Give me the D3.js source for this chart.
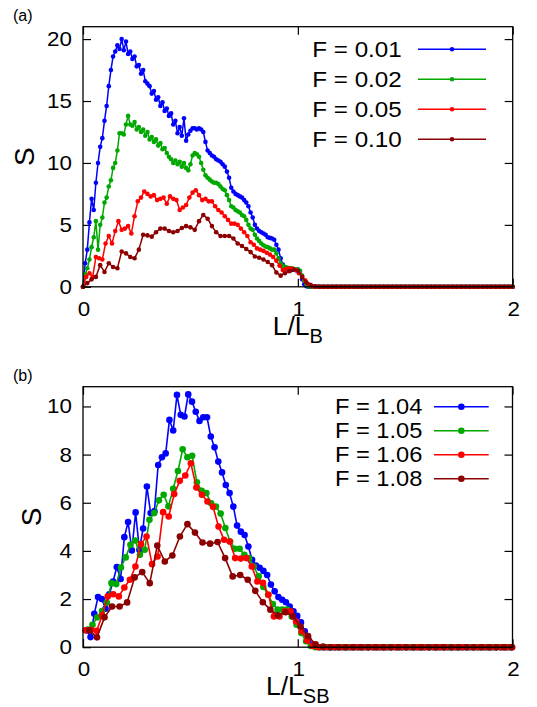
<!DOCTYPE html>
<html>
<head>
<meta charset="utf-8">
<script src="https://cdn.jsdelivr.net/npm/d3@7"></script>
<style>
  body { margin: 0; background: #fff; }
  svg { display: block; font-family: "Liberation Sans", Arial, Helvetica, sans-serif; }
</style>
</head>
<body>
<svg id="fig" width="537" height="707"></svg>
<script>
// ---- Data ----
// x ticks shared by both panels
const xTicks = [0, 1, 2];

// (a) S vs L/L_B, each series sampled on a regular L grid (start, step)
const topNames = ["F = 0.01", "F = 0.02", "F = 0.05", "F = 0.10"];
const topStart = [0, 0, 0, 0];
const topStep = [0.01, 0.01, 0.015, 0.02];
const topYTicks = [0, 5, 10, 15, 20];

const topF001 = [
  0, 1.9, 3.0, 5.2, 7.1, 6.2, 8.4, 10.0, 11.3, 12.0,
  13.4, 14.6, 16.2, 17.5, 18.6, 19.0, 19.5, 19.2, 20.0, 19.1,
  19.8, 18.8, 19.0, 18.4, 18.6, 17.8, 17.9, 17.2, 17.5, 16.6,
  16.4, 16.2, 15.6, 15.8, 15.1, 15.3, 14.6, 14.9, 14.2, 14.4,
  13.8, 14.0, 13.1, 13.4, 12.4, 12.9, 12.2, 13.6, 11.8, 12.3,
  12.6, 12.8, 12.8, 12.7, 12.8, 12.7, 12.5, 11.7, 11.0, 10.8,
  10.6, 10.5, 10.3, 10.2, 10.1, 9.9, 9.7, 9.3, 8.8, 8.0,
  7.7, 7.5, 7.4, 7.3, 7.2, 7.0, 6.8, 6.5, 6.0, 5.6,
  5.0, 4.7, 4.5, 4.4, 4.3, 4.2, 4.0, 3.95, 3.9, 3.8,
  3.4, 3.0, 2.3, 1.8, 1.6, 1.4, 1.35, 1.35, 1.4, 1.35,
  1.4, 1.2, 0.6, 0.2, 0.05, 0, 0, 0, 0, 0,
  0, 0, 0, 0, 0, 0, 0, 0, 0, 0,
  0, 0, 0, 0, 0, 0, 0, 0, 0, 0,
  0, 0, 0, 0, 0, 0, 0, 0, 0, 0,
  0, 0, 0, 0, 0, 0, 0, 0, 0, 0,
  0, 0, 0, 0, 0, 0, 0, 0, 0, 0,
  0, 0, 0, 0, 0, 0, 0, 0, 0, 0,
  0, 0, 0, 0, 0, 0, 0, 0, 0, 0,
  0, 0, 0, 0, 0, 0, 0, 0, 0, 0,
  0, 0, 0, 0, 0, 0, 0, 0, 0, 0,
  0
];
const topF002 = [
  0, 1.0, 1.5, 2.2, 3.2, 4.0, 5.3, 3.0, 5.0, 5.6,
  6.8, 7.2, 8.1, 8.6, 9.6, 10.0, 11.0, 12.4, 12.4, 12.3,
  13.1, 13.8, 13.1, 13.0, 13.3, 12.7, 12.9, 12.5, 12.7, 12.2,
  12.5, 11.9, 12.1, 11.7, 11.9, 11.4, 11.6, 11.1, 11.2, 10.8,
  10.5, 10.3, 10.0, 10.2, 9.9, 10.1, 9.7, 10.0, 9.6, 9.4,
  9.9, 10.6, 10.8, 10.7, 10.5, 10.0, 9.45, 9.0, 8.8, 8.65,
  8.5, 8.4, 8.4, 8.3, 8.1, 7.9, 7.8, 7.4, 7.0, 6.5,
  6.4, 6.2, 6.1, 6.0, 5.8, 5.7, 5.4, 5.0, 4.7, 4.6,
  4.2, 3.9, 3.7, 3.5, 3.35, 3.25, 3.2, 3.1, 3.0, 3.0,
  2.7, 2.3, 1.9, 1.7, 1.6, 1.55, 1.5, 1.5, 1.45, 1.4,
  1.4, 1.3, 0.9, 0.5, 0.2, 0.05, 0, 0, 0, 0,
  0, 0, 0, 0, 0, 0, 0, 0, 0, 0,
  0, 0, 0, 0, 0, 0, 0, 0, 0, 0,
  0, 0, 0, 0, 0, 0, 0, 0, 0, 0,
  0, 0, 0, 0, 0, 0, 0, 0, 0, 0,
  0, 0, 0, 0, 0, 0, 0, 0, 0, 0,
  0, 0, 0, 0, 0, 0, 0, 0, 0, 0,
  0, 0, 0, 0, 0, 0, 0, 0, 0, 0,
  0, 0, 0, 0, 0, 0, 0, 0, 0, 0,
  0, 0, 0, 0, 0, 0, 0, 0, 0, 0,
  0
];
const topF005 = [
  0, 0.8, 1.1, 0.8, 2.4, 2.3, 2.2, 3.5, 4.1, 3.5,
  4.5, 5.3, 4.6, 4.7, 4.9, 4.3, 5.7, 6.9, 7.2, 7.7,
  7.5, 7.3, 7.4, 7.0, 7.1, 7.2, 6.7, 7.3, 7.1, 7.0,
  6.2, 6.4, 6.6, 7.2, 7.6, 7.8, 7.4, 7.0, 7.1, 6.9,
  6.9, 6.5, 6.2, 6.0, 5.7, 5.4, 5.1, 5.1, 5.0, 4.7,
  4.4, 4.1, 3.6, 3.4, 3.1, 3.0, 2.9, 2.75, 2.6, 2.4,
  2.1, 1.7, 1.35, 1.45, 1.5, 1.45, 1.35, 1.1, 0.8, 0.5,
  0.2, 0.05, 0, 0, 0, 0, 0, 0, 0, 0,
  0, 0, 0, 0, 0, 0, 0, 0, 0, 0,
  0, 0, 0, 0, 0, 0, 0, 0, 0, 0,
  0, 0, 0, 0, 0, 0, 0, 0, 0, 0,
  0, 0, 0, 0, 0, 0, 0, 0, 0, 0,
  0, 0, 0, 0, 0, 0, 0, 0, 0, 0,
  0, 0, 0, 0
];
const topF010 = [
  0, 0.3, 0.6, 0.8, 1.75, 1.2, 1.9, 1.6, 1.5, 2.85,
  2.7, 2.4, 2.3, 3.0, 4.2, 4.15, 4.05, 4.4, 4.7, 4.7,
  4.5, 4.4, 4.5, 4.75, 4.9, 4.8, 4.6, 5.3, 5.8, 5.5,
  4.9, 4.4, 4.1, 4.1, 4.1, 3.9, 3.5, 3.3, 3.05, 2.8,
  2.45, 2.35, 2.2, 2.0, 1.75, 1.15, 0.9, 1.1, 1.25, 1.4,
  1.3, 0.8, 0.35, 0.15, 0.05, 0, 0, 0, 0, 0,
  0, 0, 0, 0, 0, 0, 0, 0, 0, 0,
  0, 0, 0, 0, 0, 0, 0, 0, 0, 0,
  0, 0, 0, 0, 0, 0, 0, 0, 0, 0,
  0, 0, 0, 0, 0, 0, 0, 0, 0, 0,
  0
];

// (b) S vs L/L_SB
const botNames = ["F = 1.04", "F = 1.05", "F = 1.06", "F = 1.08"];
const botStart = [0.0175, 0.0221, 0.012, 0.03];
const botStep = [0.0175, 0.0221, 0.0258, 0.0351];
const botYTicks = [0, 2, 4, 6, 8, 10];

const botF104 = [
  0.70, 0.42, 1.39, 2.08, 2.0, 1.6, 2.2, 2.73, 3.33, 2.83,
  4.57, 5.2, 4.02, 5.6, 4.05, 4.93, 6.67, 5.57, 5.65, 7.57,
  7.89, 8.05, 9.44, 9.0, 10.48, 9.65, 9.58, 10.5, 10.2, 9.78,
  9.4, 9.55, 9.55, 8.75, 8.3, 7.71, 7.26, 6.74, 6.4, 5.84,
  5.05, 4.8, 4.66, 4.18, 3.63, 3.39, 3.3, 3.17, 3.0, 2.6,
  2.32, 2.08, 1.97, 1.87, 1.69, 1.49, 1.3, 1.03, 0.66, 0.31,
  0.1, 0.02, 0, 0, 0, 0, 0, 0, 0, 0,
  0, 0, 0, 0, 0, 0, 0, 0, 0, 0,
  0, 0, 0, 0, 0, 0, 0, 0, 0, 0,
  0, 0, 0, 0, 0, 0, 0, 0, 0, 0,
  0, 0, 0, 0, 0, 0, 0, 0, 0, 0,
  0, 0, 0, 0
];
const botF105 = [
  0.73, 0.93, 1.24, 1.5, 1.85, 2.66, 2.62, 3.31, 3.73, 4.25,
  4.43, 3.84, 4.05, 5.29, 5.57, 6.1, 6.33, 5.85, 6.58, 7.32,
  8.22, 7.89, 7.95, 6.85, 6.5, 6.4, 5.98, 5.84, 5.55, 4.95,
  4.39, 4.09, 4.09, 3.84, 3.7, 3.35, 2.94, 2.5, 2.18, 1.79,
  1.56, 1.56, 1.56, 1.28, 0.93, 0.59, 0.25, 0.05, 0, 0,
  0, 0, 0, 0, 0, 0, 0, 0, 0, 0,
  0, 0, 0, 0, 0, 0, 0, 0, 0, 0,
  0, 0, 0, 0, 0, 0, 0, 0, 0, 0,
  0, 0, 0, 0, 0, 0, 0, 0, 0, 0
];
const botF106 = [
  0.7, 0.72, 0.68, 1.32, 2.11, 2.2, 2.11, 2.48, 2.8, 3.35,
  4.28, 4.6, 3.45, 3.77, 5.61, 5.43, 6.36, 6.91, 7.13, 7.64,
  6.63, 6.33, 6.05, 5.83, 5.01, 4.46, 4.39, 3.7, 3.68, 3.7,
  3.35, 2.73, 2.67, 2.18, 1.28, 1.28, 1.49, 1.49, 1.07, 0.66,
  0.28, 0.05, 0, 0, 0, 0, 0, 0, 0, 0,
  0, 0, 0, 0, 0, 0, 0, 0, 0, 0,
  0, 0, 0, 0, 0, 0, 0, 0, 0, 0,
  0, 0, 0, 0, 0, 0, 0, 0
];
const botF108 = [
  0.7, 0.41, 1.24, 1.69, 1.69, 1.86, 2.9, 3.12, 2.66, 4.22,
  3.56, 3.81, 4.6, 5.11, 4.76, 4.35, 4.3, 4.37, 3.7, 2.94,
  3.0, 2.8, 2.34, 1.87, 1.56, 1.33, 1.45, 1.28, 0.86, 0.46,
  0.12, 0.03, 0, 0, 0, 0, 0, 0, 0, 0,
  0, 0, 0, 0, 0, 0, 0, 0, 0, 0,
  0, 0, 0, 0, 0, 0, 0
];

// gnuplot-like line colours, same order in both panels
const colors = ["#0000ff", "#00a800", "#ff0000", "#8b0000"];

// ---- Drawing ----
const svg = d3.select("#fig");

// text helper; sx stretches the glyphs horizontally like the original render
function label(g, x, y, str, size, anchor, sx) {
  return g.append("text")
    .attr("transform", `translate(${x},${y}) scale(${sx || 1},1)`)
    .attr("text-anchor", anchor || "start")
    .attr("font-size", size)
    .attr("fill", "#000")
    .text(str);
}

function panel(p) {
  const g = svg.append("g");
  const x = d3.scaleLinear().domain([0, 2]).range([p.left, p.right]);
  const y = d3.scaleLinear().domain([0, p.yMax]).range([p.bottom, p.top]);

  // inward ticks on all four sides (mirrored like gnuplot)
  const tick = 8;
  g.append("g")
    .attr("transform", `translate(${p.left},0)`)
    .call(d3.axisLeft(y).tickValues(p.yTicks).tickSize(-tick).tickFormat(""));
  g.append("g")
    .attr("transform", `translate(${p.right},0)`)
    .call(d3.axisRight(y).tickValues(p.yTicks).tickSize(-tick).tickFormat(""));
  g.append("g")
    .attr("transform", `translate(0,${p.bottom})`)
    .call(d3.axisBottom(x).tickValues(xTicks).tickSize(-tick).tickFormat(""));
  g.append("g")
    .attr("transform", `translate(0,${p.top})`)
    .call(d3.axisTop(x).tickValues(xTicks).tickSize(-tick).tickFormat(""));
  g.selectAll(".domain").remove();
  g.selectAll(".tick line").attr("stroke", "#000").attr("stroke-width", 1.2);

  // tick labels
  p.yTicks.forEach(v => label(g, p.left - 11, y(v) + 7, v, 20, "end", p.tsx));
  xTicks.forEach(v => label(g, x(v) + 1, p.bottom + 29, v, 20, "middle", p.tsx));

  // series: line then points, blue first, dark red last
  const line = d3.line().x(d => x(d[0])).y(d => y(d[1]));
  p.series.forEach((vals, i) => {
    const pts = vals.map((v, k) => [p.start[i] + k * p.step[i], v]);
    g.append("path")
      .datum(pts)
      .attr("d", line)
      .attr("fill", "none")
      .attr("stroke", colors[i])
      .attr("stroke-width", p.lw)
      .attr("stroke-linejoin", "round");
    g.append("g")
      .selectAll("circle")
      .data(pts)
      .join("circle")
      .attr("cx", d => x(d[0]))
      .attr("cy", d => y(d[1]))
      .attr("r", p.r)
      .attr("fill", colors[i]);
  });

  // frame
  g.append("rect")
    .attr("x", p.left).attr("y", p.top)
    .attr("width", p.right - p.left).attr("height", p.bottom - p.top)
    .attr("fill", "none").attr("stroke", "#000").attr("stroke-width", 1.3);

  // legend
  p.names.forEach((nm, i) => {
    const ly = p.legY + i * p.legDy;
    label(g, p.legText, ly + 7.5, nm, p.legFont, "end", p.lsx);
    g.append("line")
      .attr("x1", p.legX1).attr("x2", p.legX2)
      .attr("y1", ly).attr("y2", ly)
      .attr("stroke", colors[i]).attr("stroke-width", p.lw);
    g.append("circle")
      .attr("cx", (p.legX1 + p.legX2) / 2).attr("cy", ly)
      .attr("r", p.r).attr("fill", colors[i]);
  });

  // axis titles
  const xt = g.append("text")
    .attr("x", (p.left + p.right) / 2)
    .attr("y", p.bottom + 48)
    .attr("text-anchor", "middle")
    .attr("font-size", 26.5);
  xt.append("tspan").text("L/L");
  xt.append("tspan").attr("dy", 8).attr("font-size", 20).text(p.sub);

  g.append("text")
    .attr("transform", `translate(${p.yLabX},${(p.top + p.bottom) / 2}) rotate(-90)`)
    .attr("text-anchor", "middle")
    .attr("font-size", 28)
    .text("S");

  label(g, 13, p.tagY, p.tag, 16, "start", 1);
}

panel({
  left: 83, right: 512.7, top: 26.7, bottom: 286.8, yMax: 21,
  yTicks: topYTicks,
  series: [topF001, topF002, topF005, topF010],
  start: topStart, step: topStep,
  names: topNames,
  r: 2.3, lw: 1.5,
  legY: 49.3, legDy: 30, legText: 401.7, legX1: 418, legX2: 486, legFont: 22,
  tsx: 1.12, lsx: 1.1,
  sub: "B", yLabX: 34, tag: "(a)", tagY: 21
});

panel({
  left: 83, right: 512.5, top: 386.7, bottom: 647.2, yMax: 10.82,
  yTicks: botYTicks,
  series: [botF104, botF105, botF106, botF108],
  start: botStart, step: botStep,
  names: botNames,
  r: 3.3, lw: 1.6,
  legY: 406.7, legDy: 24, legText: 422.3, legX1: 434, legX2: 488.7, legFont: 21.5,
  tsx: 1.12, lsx: 1.1,
  sub: "SB", yLabX: 41, tag: "(b)", tagY: 381
});
</script>
</body>
</html>
